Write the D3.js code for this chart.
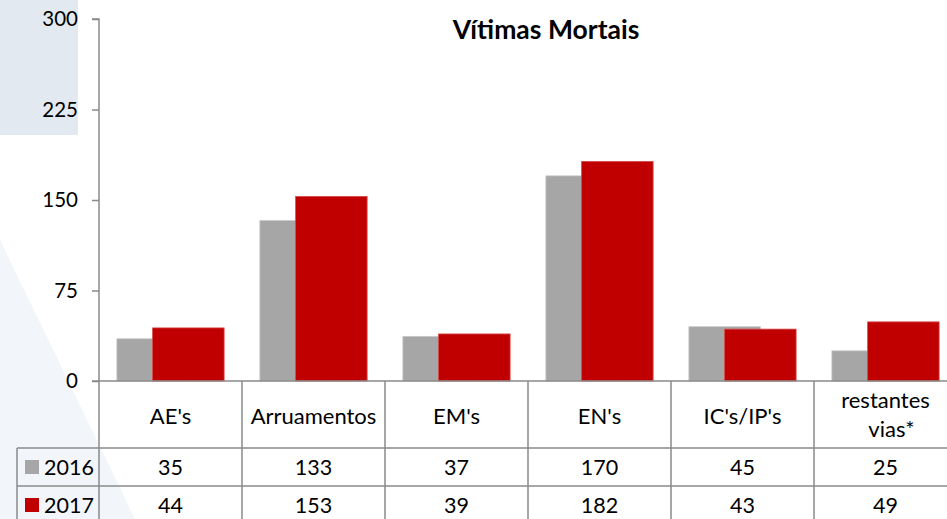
<!DOCTYPE html>
<html><head><meta charset="utf-8">
<script src="https://cdn.jsdelivr.net/npm/d3@7/dist/d3.min.js"></script>
<style>
html,body{margin:0;padding:0;background:#fff;overflow:hidden}
svg{display:block;font-family:Lato,"Open Sans",sans-serif}
</style></head><body>
<svg id="c" width="947" height="519"></svg>
<script>
const title = "Vítimas Mortais";
const categories = ["AE's","Arruamentos","EM's","EN's","IC's/IP's","restantes vias*"];
const seriesNames = ["2016","2017"];
const values2016 = [35,133,37,170,45,25];
const values2017 = [44,153,39,182,43,49];
const yTicks = [0,75,150,225,300];
const colors = ["#a6a6a6","#c00000"];

const svg = d3.select("#c");
const x0 = 99, bandW = 143;
const y = d3.scaleLinear().domain([0,300]).range([381,19]);
const x = d3.scaleBand().domain(categories).range([x0, x0 + bandW*categories.length]).paddingInner(0).paddingOuter(0);

// background decor
svg.append("rect").attr("x",0).attr("y",0).attr("width",78).attr("height",135).attr("fill","#e3e9f1");
svg.append("polygon").attr("points","0,240 135,519 0,519").attr("fill","#f2f5fa");

// bars: overlap 50%
const barW = x.bandwidth()*0.5;
const gap = (x.bandwidth() - 1.5*barW)/2;
const series = [values2016, values2017];
series.forEach((vals,si)=>{
  svg.append("g").selectAll("rect").data(vals).join("rect")
    .attr("x",(d,i)=>x(categories[i]) + gap + si*barW/2)
    .attr("y",d=>y(d))
    .attr("width",barW)
    .attr("height",d=>y(0)-y(d))
    .attr("fill",colors[si])
    .attr("stroke", si===0 ? "#c8c8c8" : "#d94a4a")
    .attr("stroke-width",0.8);
});

// y axis
const lineCol = "#8a8a8a";
const yAxis = d3.axisLeft(y).tickValues(yTicks).tickSize(7).tickPadding(14);
const ga = svg.append("g").attr("transform",`translate(${x0},0)`).call(yAxis);
ga.select(".domain").attr("stroke",lineCol).attr("stroke-width",1.5).attr("d",`M-7,${y(300)}H0V${y(0)}`);
ga.selectAll(".tick line").attr("stroke",lineCol).attr("stroke-width",1.5);
ga.selectAll(".tick text").attr("font-size",20.5).attr("fill","#000").attr("font-family","Lato,sans-serif");

// title
svg.append("text").attr("x",546).attr("y",39).attr("text-anchor","middle")
  .attr("font-size",26.5).attr("font-weight","bold").attr("fill","#000").text(title);

// data table
const tableRight = x0 + bandW*categories.length;
const rowY = [381, 448, 486, 524];
const legendLeft = 17;
const tg = svg.append("g").attr("stroke",lineCol).attr("stroke-width",1.5).attr("fill","none");
tg.append("line").attr("x1",x0-7).attr("x2",tableRight).attr("y1",rowY[0]).attr("y2",rowY[0]);
[rowY[1],rowY[2],rowY[3]].forEach(yy=>tg.append("line").attr("x1",legendLeft).attr("x2",tableRight).attr("y1",yy).attr("y2",yy));
tg.append("line").attr("x1",legendLeft).attr("x2",legendLeft).attr("y1",rowY[1]).attr("y2",rowY[3]);
categories.forEach((c,i)=>{
  const xx = x(c);
  tg.append("line").attr("x1",xx).attr("x2",xx).attr("y1",rowY[0]).attr("y2",rowY[3]);
});
tg.append("line").attr("x1",tableRight).attr("x2",tableRight).attr("y1",rowY[0]).attr("y2",rowY[3]);

// category labels
const catG = svg.append("g").attr("font-size",22).attr("fill","#000").attr("text-anchor","middle");
categories.forEach((c,i)=>{
  const cx = x(c) + x.bandwidth()/2;
  const t = catG.append("text").attr("x",cx);
  if (c === "restantes vias*") {
    t.attr("y",408).text("restantes");
    catG.append("text").attr("x",cx+6).attr("y",437).text("vias*");
  } else {
    t.attr("y",424).text(c);
  }
});

// values rows
const rowCenters = [467, 505];
series.forEach((vals,si)=>{
  const g = svg.append("g").attr("font-size",21.5).attr("fill","#000").attr("text-anchor","middle");
  vals.forEach((v,i)=>{
    g.append("text").attr("x",x(categories[i]) + x.bandwidth()/2).attr("y",rowCenters[si]+8).text(v);
  });
  svg.append("rect").attr("x",25).attr("y",rowCenters[si]-7).attr("width",14).attr("height",14).attr("fill",colors[si]);
  svg.append("text").attr("x",44).attr("y",rowCenters[si]+8).attr("font-size",21.5).attr("fill","#000").text(seriesNames[si]);
});
</script>
</body></html>
